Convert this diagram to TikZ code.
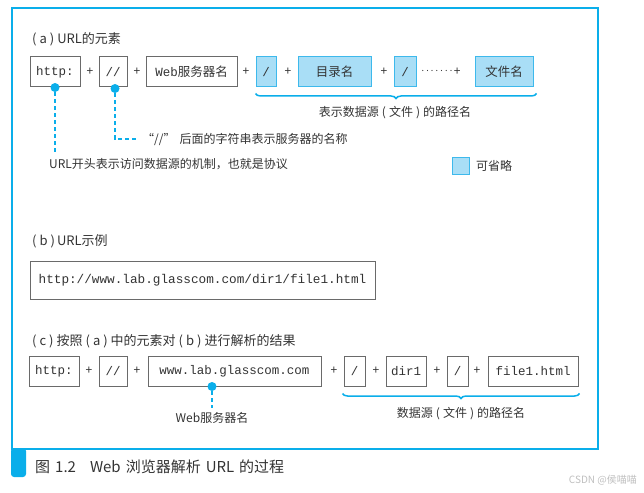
\documentclass[tikz,border=0pt]{standalone}
\usepackage{fontspec}
\setmainfont{Noto Sans CJK SC}
\setmonofont{Liberation Mono}
\usetikzlibrary{decorations.pathreplacing}
\definecolor{fblue}{HTML}{0AAEEA}
\definecolor{lblue}{HTML}{A9DEF6}
\definecolor{obord}{HTML}{3DB9EC}
\definecolor{bgray}{HTML}{6A6A6A}
\definecolor{tgray}{HTML}{333333}
\newcommand{\pl}[1]{(\hspace{3pt}#1\hspace{3pt})}
\newcommand{\dotrow}{\raisebox{4pt}{\fontsize{9}{9}\selectfont .\kern2.2pt.\kern2.2pt.\kern2.2pt.\kern2.2pt.\kern2.2pt.\kern2.2pt.}\kern1.5pt+}
\begin{document}
\begin{tikzpicture}[x=1pt,y=-1pt,
 box/.style={draw=bgray, line width=1pt, minimum height=30pt, inner sep=0pt, text=tgray, font=\ttfamily\fontsize{12.5}{14}\selectfont},
 opt/.style={box, draw=obord, fill=lblue},
 plus/.style={text=tgray, font=\fontsize{12}{14}\selectfont, inner sep=0pt},
 lbl/.style={text=tgray, font=\fontsize{12}{14}\selectfont, inner sep=0pt},
 head/.style={text=tgray, font=\fontsize{13}{15}\selectfont, inner sep=0pt, anchor=west},
 dot/.style={circle, fill=fblue, inner sep=0pt, minimum size=9pt},
 lead/.style={draw=fblue, line width=1.8pt, dash pattern=on 4pt off 3pt},
 brc/.style={draw=fblue, line width=1.5pt, decorate, decoration={brace, mirror, amplitude=5pt}}]
\useasboundingbox (0,0) rectangle (644,492);
% frame
\draw[fblue, line width=2.2pt] (12,8) rectangle (598,449);
\fill[fblue, rounded corners=3pt] (11,448) rectangle (26,477);
\node[anchor=west, inner sep=0pt, text=tgray, font=\fontsize{15}{17}\selectfont] (cap) at (35,467) {图\hspace{5pt}1.2\hspace{14pt}Web\hspace{5pt}浏览器解析\hspace{5pt}URL\hspace{5pt}的过程};
\node[anchor=east, inner sep=0pt, text=black!25, font=\fontsize{10}{12}\selectfont] (wm) at (637,480) {CSDN @侯喵喵};

% (a)
\node[head] (la) at (32,39) {\pl{a}\hspace{3pt}URL的元素};
\node[box, minimum width=50pt] (ah) at (55,72) {http:};
\node[plus] (ap1) at (90,72) {+};
\node[box, minimum width=28pt] (as) at (113,72) {//};
\node[plus] (ap2) at (137,72) {+};
\node[box, minimum width=91pt] (aw) at (191.5,72) {Web{\rmfamily 服务器名}};
\node[plus] (ap3) at (246,72) {+};
\node[opt, minimum width=20pt] (asl1) at (266,72) {/};
\node[plus] (ap4) at (288,72) {+};
\node[opt, minimum width=73pt] (adir) at (334.5,72) {\rmfamily 目录名};
\node[plus] (ap5) at (384,72) {+};
\node[opt, minimum width=22pt] (asl2) at (405,72) {/};
\node[plus] (ap6) at (441,72) {\dotrow};
\node[opt, minimum width=58pt] (afile) at (504,72) {\rmfamily 文件名};
\draw[brc] ([yshift=-6pt]asl1.south west) -- ([xshift=3pt,yshift=-6pt]afile.south east);
\node[lbl] (abt) at (395,113) {表示数据源\hspace{3pt}\pl{文件}\hspace{3pt}的路径名};

\node[dot] (d1) at (ah.south) {};
\node[dot] (d2) at ([xshift=2pt,yshift=-1pt]as.south) {};
\coordinate (e1) at (55,154);
\coordinate (e2) at (115,139);
\coordinate (e2b) at (136,139);
\draw[lead] (d1) -- (e1);
\draw[lead] (d2) -- (e2) -- (e2b);
\node[lbl, anchor=west] (t2) at (142,139) {“//”\hspace{4pt}后面的字符串表示服务器的名称};
\node[lbl, anchor=west] (t1) at (49,164) {URL开头表示访问数据源的机制，也就是协议};
\node[opt, minimum width=17pt, minimum height=17pt] (leg) at (460.5,165.5) {};
\node[lbl, anchor=west] (legt) at (476,166) {可省略};

% (b)
\node[head] (lb) at (32,241) {\pl{b}\hspace{2pt}URL示例};
\node[box, minimum width=345pt, minimum height=38pt, font=\ttfamily\fontsize{12.7}{14}\selectfont] (bu) at (202.5,280) {http://www.lab.glasscom.com/dir1/file1.html};

% (c)
\node[head] (lc) at (32,341) {\pl{c}\hspace{3pt}按照\hspace{3pt}\pl{a}\hspace{3pt}中的元素对\hspace{3pt}\pl{b}\hspace{3pt}进行解析的结果};
\node[box, minimum width=50pt] (ch) at (54,371) {http:};
\node[plus] (cp1) at (89,371) {+};
\node[box, minimum width=28pt] (cs) at (113,371) {//};
\node[plus] (cp2) at (137,371) {+};
\node[box, minimum width=173pt] (cw) at (234.5,371) {www.lab.glasscom.com};
\node[plus] (cp3) at (334,371) {+};
\node[box, minimum width=21pt] (csl1) at (354.5,371) {/};
\node[plus] (cp4) at (376,371) {+};
\node[box, minimum width=40pt] (cdir) at (406,371) {dir1};
\node[plus] (cp5) at (437,371) {+};
\node[box, minimum width=21pt] (csl2) at (457.5,371) {/};
\node[plus] (cp6) at (477,371) {+};
\node[box, minimum width=90pt] (cfile) at (533,371) {file1.html};
\draw[brc] ([xshift=-1pt,yshift=-7pt]csl1.south west) -- ([xshift=1pt,yshift=-7pt]cfile.south east);
\node[lbl] (cbt) at (461,414) {数据源\hspace{3pt}\pl{文件}\hspace{3pt}的路径名};
\node[dot] (d3) at ([xshift=-22.5pt]cw.south) {};
\coordinate (e3) at (212,408);
\draw[lead] (d3) -- (e3);
\node[lbl] (t3) at (212,418) {Web服务器名};
\end{tikzpicture}
\end{document}
